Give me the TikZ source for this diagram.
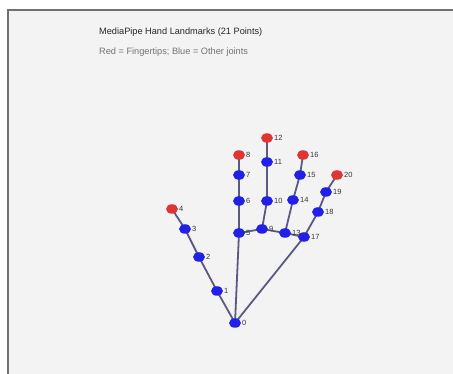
\documentclass[tikz,border=0pt]{standalone}
\usepackage{fontspec}
\setmainfont{Liberation Sans}
\usetikzlibrary{shapes.geometric}
\definecolor{bg}{HTML}{F3F3F3}
\definecolor{frame}{HTML}{707070}
\definecolor{jblue}{HTML}{2020E8}
\definecolor{jred}{HTML}{E03535}
\definecolor{bone}{HTML}{5A5A80}
\definecolor{lbl}{HTML}{333333}
\tikzset{
  joint/.style={ellipse,fill=jblue,inner sep=0pt,minimum width=12pt,minimum height=9.5pt},
  tip/.style={ellipse,fill=jred,inner sep=0pt,minimum width=12pt,minimum height=9.5pt},
  bonel/.style={draw=bone,line width=1.8pt},
  num/.style={font=\fontsize{7.5}{8}\selectfont,text=lbl,anchor=west,inner sep=0pt,xshift=7pt}
}
\begin{document}
\begin{tikzpicture}[x=1pt,y=-1pt]
\useasboundingbox (0,0) rectangle (453,374);
\fill[white] (0,0) rectangle (453,374);
\fill[bg] (8,10) rectangle (453,374);
\draw[frame,line width=2pt] (8,374) -- (8,10) -- (453,10);
\node[anchor=west,inner sep=0pt,font=\fontsize{9.2}{10}\selectfont,text=black!85] (title) at (99,32) {MediaPipe Hand Landmarks (21 Points)};
\node[anchor=west,inner sep=0pt,font=\fontsize{9.2}{10}\selectfont,text=black!55] (sub) at (99,52) {Red = Fingertips; Blue = Other joints};
% joints
\foreach \n/\x/\y in {0/235/323,1/217/291,2/199/257,3/185/229,4/172/209,
  5/239/233,6/239/201,7/239/175,8/239/155,
  9/262/229,10/267/201,11/267/162,12/267/138,
  13/285/233,14/293/200,15/300/175,16/303/155,
  17/304/237,18/318/212,19/326/192,20/337/175}
  \coordinate (p\n) at (\x,\y);
\foreach \a/\b in {0/1,1/2,2/3,3/4,0/5,5/6,6/7,7/8,5/9,9/10,10/11,11/12,9/13,13/14,14/15,15/16,13/17,0/17,17/18,18/19,19/20}
  \draw[bonel] (p\a) -- (p\b);
\foreach \n/\s in {0/joint,1/joint,2/joint,3/joint,4/tip,5/joint,6/joint,7/joint,8/tip,9/joint,10/joint,11/joint,12/tip,13/joint,14/joint,15/joint,16/tip,17/joint,18/joint,19/joint,20/tip}{
  \node[\s] (n\n) at (p\n) {};
  \node[num] (l\n) at (p\n) {\n};
}
\end{tikzpicture}
\end{document}
